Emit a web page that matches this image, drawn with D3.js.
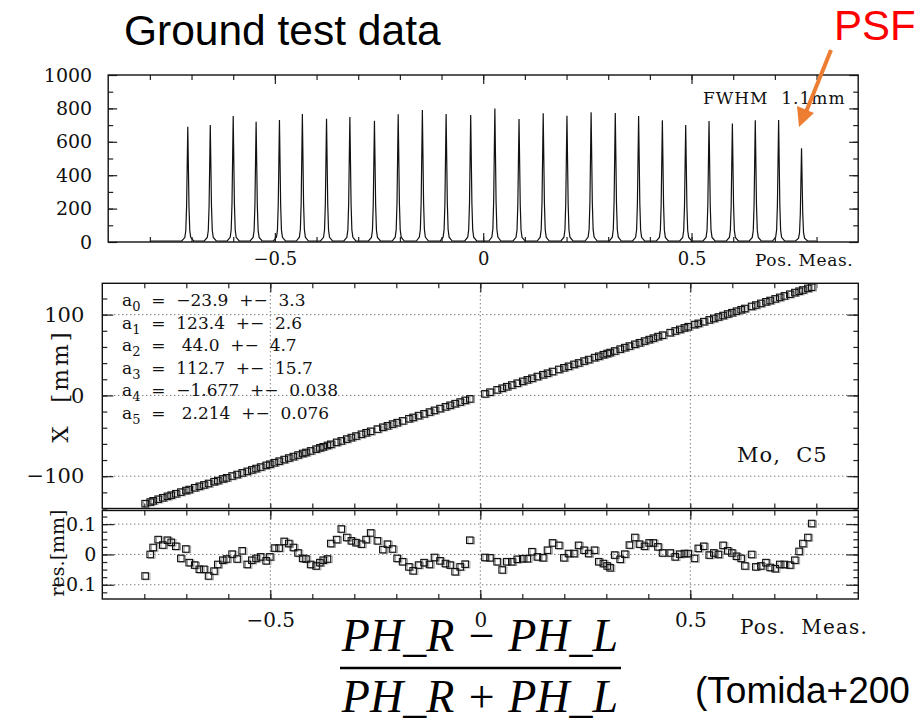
<!DOCTYPE html>
<html lang="en">
<head>
<meta charset="UTF-8">
<title>Ground test data</title>
<script src="https://cdn.jsdelivr.net/npm/d3@7/dist/d3.min.js"></script>
<style>
  body { margin: 0; background: #fff; }
  .serif { font-family: "DejaVu Serif", serif; fill: #111; }
  .axis text { font-family: "DejaVu Serif", serif; fill: #111; }
  .axis line { stroke: #222; stroke-width: 1.2; }
  .grid { stroke: #444; stroke-width: 1; stroke-dasharray: 1 3; }
</style>
</head>
<body>
<svg id="svg" width="922" height="721"></svg>
<script>
// PSF scan (top panel): peak centres in Pos. Meas. and peak heights (counts)
const peakPos = [-0.709, -0.655, -0.600, -0.545, -0.489, -0.434, -0.376, -0.320, -0.261, -0.204,
                 -0.146, -0.089, -0.030, 0.028, 0.086, 0.144, 0.201, 0.259, 0.317, 0.373,
                 0.430, 0.486, 0.542, 0.598, 0.653, 0.709, 0.764];
const peakCounts = [690, 701, 754, 720, 731, 766, 738, 749, 726, 765,
                    790, 766, 760, 800, 737, 771, 756, 777, 772, 754,
                    729, 701, 725, 709, 729, 731, 561];
const scanRange = [-0.80, 0.80];

// position calibration (middle and bottom panels)
const posMeas = [
  -0.798, -0.786, -0.779, -0.767, -0.756, -0.745, -0.736, -0.725, -0.713, -0.701,
  -0.693, -0.680, -0.669, -0.658, -0.647, -0.634, -0.625, -0.613, -0.604, -0.591,
  -0.579, -0.567, -0.555, -0.544, -0.534, -0.523, -0.510, -0.501, -0.490, -0.479,
  -0.467, -0.456, -0.445, -0.434, -0.423, -0.415, -0.404, -0.391, -0.382, -0.374,
  -0.364, -0.356, -0.342, -0.331, -0.318, -0.307, -0.296, -0.283, -0.272, -0.261,
  -0.245, -0.232, -0.221, -0.209, -0.198, -0.185, -0.170, -0.160, -0.147, -0.134,
  -0.121, -0.109, -0.096, -0.083, -0.072, -0.060, -0.048, -0.036, -0.025, 0.011,
  0.023, 0.040, 0.052, 0.063, 0.075, 0.088, 0.101, 0.112, 0.123, 0.136,
  0.149, 0.160, 0.172, 0.187, 0.199, 0.210, 0.223, 0.234, 0.247, 0.258,
  0.272, 0.282, 0.293, 0.302, 0.309, 0.320, 0.333, 0.344, 0.355, 0.368,
  0.379, 0.391, 0.402, 0.412, 0.423, 0.434, 0.452, 0.464, 0.475, 0.486,
  0.495, 0.510, 0.519, 0.532, 0.545, 0.556, 0.567, 0.578, 0.589, 0.599,
  0.610, 0.621, 0.630, 0.646, 0.656, 0.668, 0.680, 0.690, 0.702, 0.713,
  0.724, 0.737, 0.749, 0.759, 0.768, 0.780, 0.789];
const xMm = [
  -134, -132, -130.5, -128.5, -126.7, -124.9, -123.5, -121.7, -119.7, -117.8,
  -116.5, -114.3, -112.5, -110.8, -109.0, -106.8, -105.4, -103.4, -102.0, -99.8,
  -97.9, -95.9, -94.0, -92.2, -90.5, -88.7, -86.6, -85.2, -83.3, -81.4,
  -79.4, -77.5, -75.7, -73.8, -71.9, -70.6, -68.7, -66.5, -64.9, -63.6,
  -61.9, -60.5, -58.1, -56.3, -54.1, -52.2, -50.3, -48.1, -46.2, -44.4,
  -41.7, -39.4, -37.6, -35.5, -33.7, -31.5, -28.9, -27.2, -25.0, -22.8,
  -20.6, -18.5, -16.3, -14.1, -12.2, -10.2, -8.2, -6.1, -4.3, 1.9,
  4.0, 6.9, 8.9, 10.8, 12.9, 15.1, 17.4, 19.3, 21.2, 23.4,
  25.6, 27.5, 29.6, 32.2, 34.2, 36.1, 38.4, 40.2, 42.5, 44.4,
  46.8, 48.5, 50.4, 51.9, 53.1, 55.0, 57.3, 59.2, 61.1, 63.3,
  65.2, 67.3, 69.1, 70.9, 72.8, 74.6, 77.7, 79.8, 81.7, 83.6,
  85.1, 87.7, 89.2, 91.3, 93.5, 95.3, 97.1, 98.9, 100.8, 102.4,
  104.3, 106.1, 107.6, 110.2, 111.9, 113.9, 115.9, 117.5, 119.5, 121.4,
  123.2, 125.3, 127.3, 129.0, 130.5, 132.5, 134.0];
const resMm = [
  -0.071, 0.000, 0.023, 0.049, 0.031, 0.047, 0.040, 0.027, -0.013, 0.018,
  -0.027, -0.035, -0.049, -0.049, -0.071, -0.055, -0.033, -0.019, -0.015, 0.001,
  -0.015, 0.012, -0.033, -0.019, -0.013, -0.008, -0.021, -0.008, 0.021, 0.021,
  0.043, 0.036, 0.023, 0.005, -0.013, -0.015, -0.033, -0.038, -0.027, -0.019,
  -0.015, 0.036, 0.049, 0.084, 0.056, 0.045, 0.039, 0.034, 0.049, 0.071,
  0.045, 0.016, 0.034, 0.018, -0.013, -0.024, -0.041, -0.054, -0.035, -0.027,
  -0.033, -0.010, -0.021, -0.030, -0.035, -0.057, -0.041, -0.032, 0.047, -0.010,
  -0.011, -0.024, -0.051, -0.024, -0.024, -0.016, -0.014, -0.014, 0.009, -0.008,
  -0.011, 0.014, 0.038, 0.030, -0.011, 0.003, 0.003, 0.030, 0.014, 0.003,
  0.014, -0.024, -0.030, -0.038, -0.044, -0.002, -0.016, 0.001, 0.031, 0.056,
  0.034, 0.027, 0.038, 0.038, 0.025, 0.005, 0.005, -0.008, 0.001, 0.003,
  0.003, -0.013, 0.020, 0.027, -0.002, 0.005, 0.000, 0.030, 0.012, 0.005,
  -0.006, -0.013, -0.038, 0.000, -0.041, -0.038, -0.027, -0.043, -0.047, -0.033,
  -0.033, -0.035, -0.019, 0.010, 0.036, 0.056, 0.102];

// fit parameters printed in the middle panel
const fitIndex = ["0", "1", "2", "3", "4", "5"];
const fitValue = ["−23.9", "123.4", " 44.0", "112.7", "−1.677", " 2.214"];
const fitError = ["3.3", "2.6", "4.7", "15.7", "0.038", "0.076"];

// tick labels
const topYLabels = [0, 200, 400, 600, 800, 1000];
const posLabels = [-0.5, 0, 0.5];
const midYLabels = [-100, 0, 100];
const resYLabels = [-0.1, 0, 0.1];

const svg = d3.select("#svg");
svg.append("rect").attr("width", 922).attr("height", 721).attr("fill", "#fff");

const fmt = d3.format("");
const posFmt = d => d === 0 ? "0" : d3.format(".1f")(d);

// ---------- scales ----------
const xTop = d3.scaleLinear().domain([-0.9, 0.9]).range([108.2, 858.2]);
const yTop = d3.scaleLinear().domain([0, 1000]).range([242, 75]);
const xMid = d3.scaleLinear().domain([-0.9, 0.9]).range([102.3, 858.3]);
const yMid = d3.scaleLinear().domain([-140, 138.8]).range([508.5, 283.3]);
const yRes = d3.scaleLinear().domain([-0.147, 0.145]).range([599, 510.5]);

const posMinor = d3.range(-0.8, 0.81, 0.1).map(d => +d.toFixed(1));

function addAxis(g, axis, tx, ty, fontSize) {
  const a = g.append("g").attr("class", "axis")
    .attr("transform", `translate(${tx},${ty})`)
    .call(axis);
  a.select(".domain").remove();
  a.selectAll("text").attr("font-size", fontSize);
  return a;
}

function frame(x, y) {
  svg.append("rect")
    .attr("x", x.range()[0]).attr("y", y.range()[1])
    .attr("width", x.range()[1] - x.range()[0])
    .attr("height", y.range()[0] - y.range()[1])
    .attr("fill", "none").attr("stroke", "#111").attr("stroke-width", 1.4);
}

function posTicks(x, y, labels, fontSize, pad) {
  const [y0, y1] = [y.range()[1], y.range()[0]];
  addAxis(svg, d3.axisTop(x).tickValues(posMinor).tickSize(-5).tickFormat(""), 0, y0);
  addAxis(svg, d3.axisTop(x).tickValues(posLabels).tickSize(-9).tickFormat(""), 0, y0);
  addAxis(svg, d3.axisBottom(x).tickValues(posMinor).tickSize(-5).tickFormat(""), 0, y1);
  return addAxis(svg, d3.axisBottom(x).tickValues(labels).tickSize(-9).tickPadding(pad).tickFormat(posFmt), 0, y1, fontSize);
}

function valTicks(x, y, minor, labels, fmtFn, fontSize, pad, lenMajor) {
  const [x0, x1] = x.range();
  addAxis(svg, d3.axisLeft(y).tickValues(minor).tickSize(-5).tickFormat(""), x0, 0);
  addAxis(svg, d3.axisRight(y).tickValues(minor).tickSize(-5).tickFormat(""), x1, 0);
  addAxis(svg, d3.axisRight(y).tickValues(labels).tickSize(-lenMajor).tickFormat(""), x1, 0);
  addAxis(svg, d3.axisLeft(y).tickValues(labels).tickSize(-lenMajor).tickPadding(pad).tickFormat(fmtFn), x0, 0, fontSize);
}

function grid(x, y, yVals) {
  const g = svg.append("g");
  g.selectAll(".gy").data(yVals).join("line").attr("class", "grid")
    .attr("x1", x.range()[0]).attr("x2", x.range()[1])
    .attr("y1", d => y(d)).attr("y2", d => y(d));
  g.selectAll(".gx").data(posLabels).join("line").attr("class", "grid")
    .attr("x1", d => x(d)).attr("x2", d => x(d))
    .attr("y1", y.range()[1]).attr("y2", y.range()[0]);
}

// ---------- top panel: PSF scan ----------
const peakShape = [[-6, 0], [-3, 0.03], [-2, 0.09], [-1.2, 0.3], [-0.6, 0.65], [0, 1],
                   [0.6, 0.65], [1.2, 0.3], [2, 0.09], [3, 0.03], [6, 0]];
const base = yTop(6);
let pts = [[xTop(scanRange[0]), base]];
peakPos.forEach((p, i) => {
  const cx = xTop(p), h = base - yTop(peakCounts[i]);
  peakShape.forEach(([dx, f]) => pts.push([cx + dx, base - f * h]));
});
pts.push([xTop(scanRange[1]), base]);
svg.append("path").attr("d", d3.line()(pts))
  .attr("fill", "none").attr("stroke", "#111").attr("stroke-width", 1.2);

valTicks(xTop, yTop, d3.range(100, 1000, 100), topYLabels, fmt, 19, 16, 9);
posTicks(xTop, yTop, posLabels, 18, 10);
frame(xTop, yTop);

svg.append("text").attr("class", "serif").attr("x", 755).attr("y", 266)
  .attr("font-size", 17).attr("letter-spacing", 0.6).text("Pos. Meas.");
svg.append("text").attr("class", "serif").attr("x", 703).attr("y", 104)
  .attr("font-size", 17).attr("letter-spacing", 1).style("white-space", "pre").text("FWHM  1.1mm");

// ---------- middle panel: X vs Pos. Meas. ----------
grid(xMid, yMid, midYLabels);
valTicks(xMid, yMid, d3.range(-140, 139, 20), midYLabels, fmt, 21, 18, 11);
posTicks(xMid, yMid, [], 18, 10);
frame(xMid, yMid);

const calib = posMeas.map((p, i) => ({pos: p, x: xMm[i], res: resMm[i]}));
const ms = 6.5;
function markers(y, key) {
  const g = svg.append("g");
  g.selectAll(".sh").data(calib).join("rect")
    .attr("x", d => xMid(d.pos) - ms / 2 + 1.5).attr("y", d => y(d[key]) - ms / 2 + 0.5)
    .attr("width", ms).attr("height", ms)
    .attr("fill", "none").attr("stroke", "#999").attr("stroke-width", 1);
  g.selectAll(".mk").data(calib).join("rect")
    .attr("x", d => xMid(d.pos) - ms / 2).attr("y", d => y(d[key]) - ms / 2)
    .attr("width", ms).attr("height", ms)
    .attr("fill", "none").attr("stroke", "#111").attr("stroke-width", 1.1);
}
markers(yMid, "x");

const fit = svg.append("g").attr("class", "serif").attr("font-size", 17);
fitIndex.forEach((k, i) => {
  const t = fit.append("text").attr("x", 122).attr("y", 306 + i * 22.6).style("white-space", "pre");
  t.append("tspan").text("a");
  t.append("tspan").attr("font-size", 13).attr("dy", 5).text(k);
  t.append("tspan").attr("dy", -5).text(`  =  ${fitValue[i]}  +−  ${fitError[i]}`);
});

svg.append("text").attr("class", "serif").attr("x", 737).attr("y", 462)
  .attr("font-size", 21).attr("letter-spacing", 1).style("white-space", "pre").text("Mo,  C5");
svg.append("text").attr("class", "serif").attr("transform", "translate(68,386) rotate(-90)")
  .attr("text-anchor", "middle").attr("font-size", 23).attr("letter-spacing", 3)
  .style("white-space", "pre").text("X  [mm]");

// ---------- bottom panel: residuals ----------
grid(xMid, yRes, resYLabels);
valTicks(xMid, yRes, d3.range(-0.125, 0.13, 0.025), resYLabels, d => d === 0 ? "0" : d3.format(".1f")(d), 19, 6, 12);
posTicks(xMid, yRes, posLabels, 20, 14);
frame(xMid, yRes);
markers(yRes, "res");

svg.append("text").attr("class", "serif").attr("x", 740).attr("y", 634)
  .attr("font-size", 20).attr("letter-spacing", 1.2).style("white-space", "pre").text("Pos.  Meas.");
svg.append("text").attr("class", "serif").attr("transform", "translate(64,553) rotate(-90)")
  .attr("text-anchor", "middle").attr("font-size", 19).text("res.[mm]");

// ---------- slide annotations ----------
svg.append("text").attr("x", 124).attr("y", 45).attr("font-family", "Liberation Sans, Arial, sans-serif")
  .attr("font-size", 42.5).attr("fill", "#000").text("Ground test data");
svg.append("text").attr("x", 834).attr("y", 40).attr("font-family", "Liberation Sans, Arial, sans-serif")
  .attr("font-size", 42).attr("fill", "#ff0000").text("PSF");
svg.append("line").attr("x1", 831).attr("y1", 50).attr("x2", 806).attr("y2", 112)
  .attr("stroke", "#ed7d31").attr("stroke-width", 4);
svg.append("path").attr("d", "M799,127 L797,106 L814,113 Z").attr("fill", "#ed7d31");

const formula = svg.append("g").attr("font-family", "Liberation Serif, serif")
  .attr("font-style", "italic").attr("font-size", 46).attr("fill", "#000").attr("text-anchor", "middle");
formula.append("text").attr("x", 480).attr("y", 651).text("PH_R − PH_L");
formula.append("text").attr("x", 480).attr("y", 712).text("PH_R + PH_L");
svg.append("line").attr("x1", 340).attr("x2", 621).attr("y1", 668).attr("y2", 668)
  .attr("stroke", "#000").attr("stroke-width", 2.5);
svg.append("text").attr("x", 695).attr("y", 703).attr("font-family", "Liberation Sans, Arial, sans-serif")
  .attr("font-size", 37).attr("fill", "#000").text("(Tomida+200");
</script>
</body>
</html>
